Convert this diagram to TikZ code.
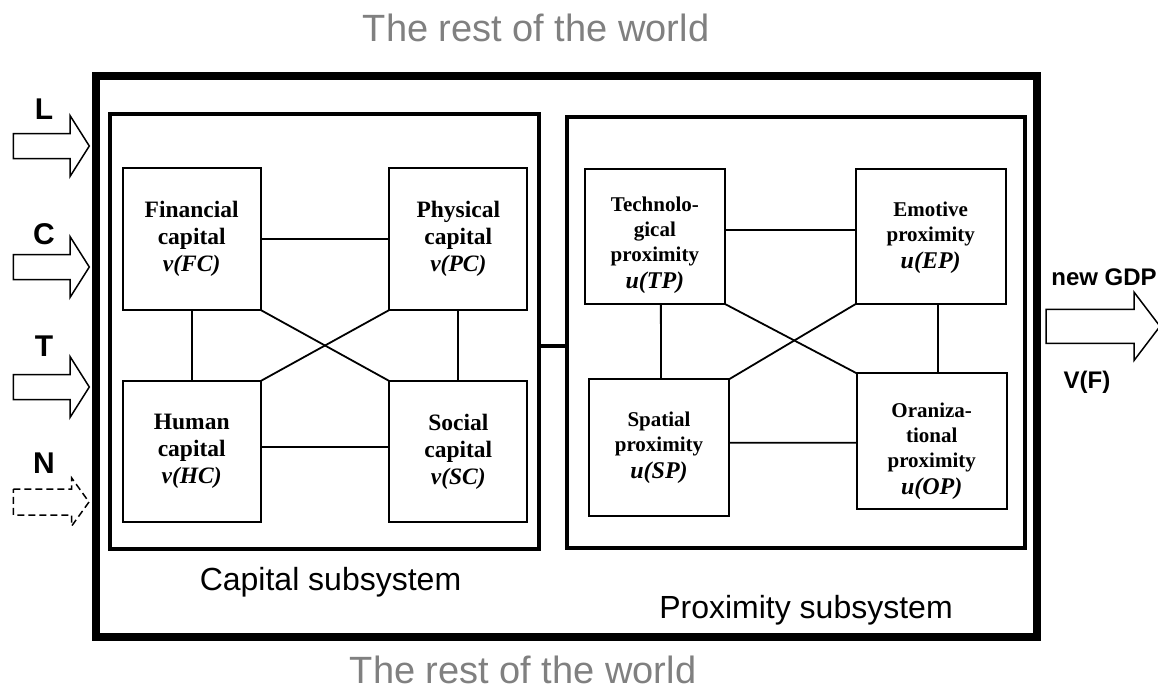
\documentclass[tikz,border=0pt]{standalone}
\usepackage{fontspec}
\setmainfont{Liberation Serif}
\newfontfamily\arialf{Liberation Sans}
\definecolor{worldgray}{RGB}{128,128,128}

% block arrow: [style]{x start}{x head base}{x tip}{y centre}{shaft half height}{head half height}
\newcommand{\blockarrow}[7][]{%
  \draw[arrowline,#1] (#2,#5-#6) -- (#3,#5-#6) -- (#3,#5-#7) -- (#4,#5)
    -- (#3,#5+#7) -- (#3,#5+#6) -- (#2,#5+#6) -- cycle;}
% larger italic value line inside the proximity boxes
\newcommand{\proxval}[1]{{\fontsize{24}{27}\selectfont\textit{#1}}}

\begin{document}
\begin{tikzpicture}[x=1pt,y=-1pt,
  every node/.style={inner sep=0pt, outer sep=0pt},
  outerframe/.style={draw, line width=8pt},
  subframe/.style={draw, line width=4pt},
  capbox/.style={draw, line width=1.8pt, align=center,
    font=\bfseries\fontsize{23.5}{27}\selectfont},
  proxbox/.style={draw, line width=1.8pt},
  proxtext/.style={align=center, font=\bfseries\fontsize{21}{25}\selectfont},
  link/.style={line width=1.8pt},
  arrowline/.style={line width=1.5pt, line join=miter},
  inlabel/.style={font=\arialf\bfseries\fontsize{30}{36}\selectfont},
  outlabel/.style={font=\arialf\bfseries\fontsize{24}{28}\selectfont},
  sysname/.style={font=\arialf\fontsize{32}{38}\selectfont, anchor=base},
  worldname/.style={font=\arialf\fontsize{38}{44}\selectfont, text=worldgray, anchor=base}
]
\useasboundingbox (0,0) rectangle (1158,691);

% frames
\node[outerframe, minimum width=941pt, minimum height=561pt] (world) at (566.5,356.5) {};
\node[subframe, minimum width=429.5pt, minimum height=435pt] (capsys) at (324.25,331) {};
\node[subframe, minimum width=458pt, minimum height=431pt] (proxsys) at (796,332.5) {};
\draw[line width=3.5pt] ([yshift=-15pt]capsys.east) -- ([yshift=-13.5pt]proxsys.west);

% capital subsystem
\node[capbox, minimum width=138pt, minimum height=141.7pt] (FC) at (191.7,239.15)
  {Financial\\capital\\\textit{v(FC)}};
\node[capbox, minimum width=138pt, minimum height=141.7pt] (PC) at (458.3,239.15)
  {Physical\\capital\\\textit{v(PC)}};
\node[capbox, minimum width=138pt, minimum height=141.3pt] (HC) at (191.7,451.65)
  {Human\\capital\\\textit{v(HC)}};
\node[capbox, minimum width=138pt, minimum height=141.3pt] (SC) at (458.3,451.65)
  {Social\\capital\\\textit{v(SC)}};

\draw[link] (FC.east) -- (PC.west);
\draw[link] ([yshift=5pt]HC.east) -- ([yshift=5pt]SC.west);
\draw[link] (FC.south) -- (HC.north);
\draw[link] (PC.south) -- (SC.north);
\draw[link] (FC.south east) -- (SC.north west);
\draw[link] (HC.north east) -- (PC.south west);

% proximity subsystem
\node[proxbox, minimum width=140.3pt, minimum height=135.3pt] (TP) at (654.85,236.35) {};
\node[proxbox, minimum width=150pt, minimum height=135.3pt] (EP) at (930.7,236.35) {};
\node[proxbox, minimum width=140pt, minimum height=136.4pt] (SP) at (659,447.5) {};
\node[proxbox, minimum width=150pt, minimum height=135.7pt] (OP) at (931.7,441.15) {};

\node[proxtext] (TPtext) at ([yshift=-9pt]TP.center)
  {Technolo-\\gical\\proximity\\[2pt]\proxval{u(TP)}};
\node[proxtext] (EPtext) at ([yshift=-1pt]EP.center)
  {Emotive\\proximity\\[2pt]\proxval{u(EP)}};
\node[proxtext] (SPtext) at ([yshift=0pt]SP.center)
  {Spatial\\proximity\\[2pt]\proxval{u(SP)}};
\node[proxtext] (OPtext) at ([yshift=-10pt]OP.center)
  {Oraniza-\\tional\\proximity\\[2pt]\proxval{u(OP)}};

\draw[link] ([yshift=6pt]TP.east) -- ([yshift=6pt]TP.east -| EP.west);
\draw[link] ([yshift=4.8pt]SP.east) -- ([yshift=-1.5pt]OP.west);
\draw[link] ([xshift=6pt]TP.south) -- ([xshift=2pt]SP.north);
\draw[link] ([xshift=7pt]EP.south) -- ([xshift=6pt]OP.north);
\draw[link] (TP.south east) -- (OP.north west);
\draw[link] (SP.north east) -- (EP.south west);

% names
\node[sysname] (capname) at (330.5,590) {Capital subsystem};
\node[sysname] (proxname) at (806,618) {Proximity subsystem};
\node[worldname] (worldtop) at (536,41.7) {The rest of the world};
\node[worldname] (worldbottom) at (523,683.3) {The rest of the world};

% inputs
\node[inlabel] (labL) at (44,109) {L};
\node[inlabel] (labC) at (44,234) {C};
\node[inlabel] (labT) at (44,346) {T};
\node[inlabel] (labN) at (44,463) {N};
\blockarrow{13.3}{70}{89.3}{146}{12.5}{30.5}
\blockarrow{13.3}{70}{89.3}{267}{12.5}{30.5}
\blockarrow{13.3}{70}{89.3}{387}{12.5}{30.5}
\blockarrow[dash pattern=on 7pt off 4pt]{13.3}{71.7}{89}{502}{13}{24}

% output
\blockarrow{1046}{1134}{1160}{326.3}{17}{34.2}
\node[outlabel] (labGDP) at (1104,277) {new GDP};
\node[outlabel, anchor=base] (labVF) at (1087,388) {V(F)};
\end{tikzpicture}
\end{document}
